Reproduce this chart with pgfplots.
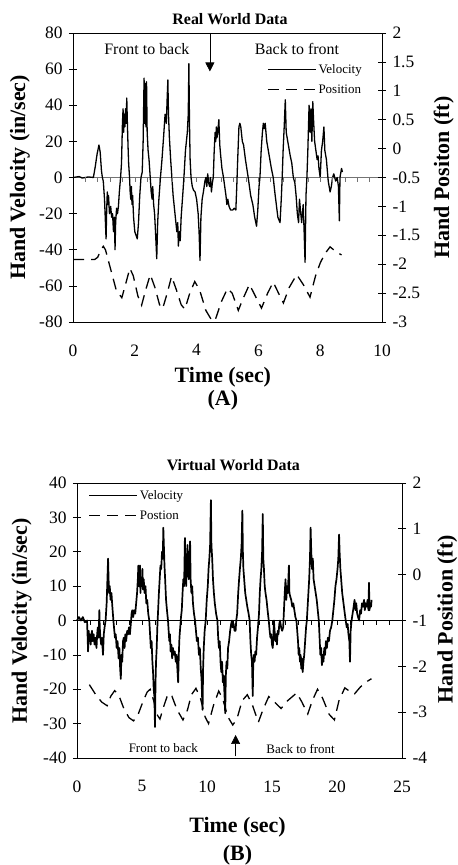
\documentclass[border=0pt]{standalone}
\usepackage{fontspec}
\setmainfont{Liberation Serif}
\usepackage{pgfplots}
\pgfplotsset{compat=1.18}
\usetikzlibrary{arrows.meta}

\pgfplotsset{
  panel/.style={
    scale only axis, anchor=south west,
    axis line style={black, line width=0.8bp},
    tick align=center, major tick length=8bp,
    tick style={black, line width=0.7bp},
    tick label style={font=\fontsize{17.5}{17.5}\selectfont},
    /pgf/number format/assume math mode=true,
    /pgf/number format/fixed,
    xtick style={draw=none},
    xtick pos=bottom,
    xticklabel style={yshift=-15bp},
    label style={font=\fontsize{22}{22}\selectfont\bfseries},
    every axis title shift=0pt,
    title style={font=\fontsize{16}{16}\selectfont\bfseries, anchor=center},
    clip=false,
  },
  lgd/.style={
    legend style={draw=none, fill=none, inner sep=0pt, row sep=6bp,
      font=\fontsize{13}{13}\selectfont},
    legend cell align=left,
    legend image code/.code={\draw[##1] (0bp,0bp) -- (48bp,0bp);},
  },
  vel/.style={black, line width=1.3bp, line join=round},
  pos/.style={black, line width=1.3bp, dash pattern=on 11bp off 7bp},
}

\begin{document}
\begin{tikzpicture}
\path[use as bounding box] (0,0) rectangle (458bp,865bp);

% ---------------- (A) real world: velocity, left axis
\begin{axis}[panel, lgd,
    at={(73bp,543bp)}, width=309bp, height=289bp,
    xmin=0, xmax=10, ymin=-80, ymax=80,
    xtick={0,2,4,6,8,10}, ytick={-80,-60,-40,-20,0,20,40,60,80},
    ytick pos=left,
    yticklabel style={xshift=-3bp},
    title={Real World Data},
    title style={at={(axis description cs:0.508,1.048)}},
    xlabel={Time (sec)},
    xlabel style={at={(axis description cs:0.485,-0.19)}, anchor=center},
    ylabel={Hand Velocity (in/sec)},
    ylabel style={at={(axis description cs:-0.172,0.5)}, anchor=center},
    legend style={at={(axis description cs:0.628,0.9)}, anchor=north west},
]
\addplot[forget plot, black!55, line width=0.7bp] coordinates {(0,0) (10,0)};
\addplot[forget plot, only marks, mark=|, mark size=2.5bp, black!55,
  mark options={yshift=-2bp, line width=0.6bp}] coordinates {
  (0.4,0) (0.8,0) (1.2,0) (1.6,0) (2.0,0) (2.4,0) (2.8,0) (3.2,0) (3.6,0)
  (4.0,0) (4.4,0) (4.8,0) (5.2,0) (5.6,0) (6.0,0) (6.4,0) (6.8,0) (7.2,0)
  (7.6,0) (8.0,0) (8.4,0) (8.8,0) (9.2,0) (9.6,0)};
\addplot[vel] coordinates {
(0,0) (0.2,0.5) (0.3,-0.3) (0.5,0.3) (0.66,0) (0.72,6) (0.78,13) (0.84,18)
(0.88,14) (0.92,4) (0.95,0) (0.98,-2) (1.02,-12) (1.05,-25) (1.07,-34)
(1.09,-18) (1.11,-8) (1.13,-15) (1.15,-10) (1.18,-20) (1.22,-16) (1.25,-22)
(1.28,-20) (1.31,-30) (1.34,-22) (1.36,-40) (1.38,-25) (1.41,-17) (1.44,-20)
(1.47,-16) (1.5,-8) (1.54,0) (1.57,8) (1.6,30) (1.62,38) (1.64,25) (1.66,35)
(1.68,28) (1.7,38) (1.72,30) (1.74,44) (1.76,30) (1.78,18) (1.8,8) (1.83,0)
(1.85,-8) (1.87,-12) (1.89,-5) (1.91,-15) (1.93,-10) (1.96,-22) (2.0,-30)
(2.04,-32) (2.08,-34) (2.12,-25) (2.16,-10) (2.2,0) (2.24,3) (2.27,20)
(2.3,55) (2.32,30) (2.34,52) (2.36,28) (2.38,53) (2.4,25) (2.43,15) (2.46,10)
(2.5,0) (2.53,-8) (2.56,-12) (2.58,-5) (2.61,-15) (2.64,-20) (2.67,-30)
(2.71,-45) (2.74,-25) (2.78,-12) (2.83,0) (2.88,10) (2.93,22) (2.98,35)
(3.02,30) (3.05,45) (3.07,54) (3.09,35) (3.12,22) (3.16,10) (3.2,0)
(3.24,-10) (3.3,-20) (3.36,-30) (3.39,-25) (3.41,-38) (3.44,-30) (3.47,-35)
(3.5,-22) (3.55,-10) (3.59,0) (3.64,15) (3.7,25) (3.73,35) (3.75,63)
(3.77,30) (3.79,10) (3.82,0) (3.86,-5) (3.9,-7) (3.95,-8) (4.0,-12)
(4.05,-20) (4.08,-30) (4.11,-46) (4.14,-22) (4.18,-12) (4.22,-8) (4.27,-2)
(4.3,0) (4.33,-5) (4.36,2) (4.39,-3) (4.42,-5) (4.45,0) (4.48,-8) (4.51,-3)
(4.54,0) (4.57,15) (4.6,25) (4.62,20) (4.64,28) (4.66,22) (4.69,26)
(4.72,32) (4.75,18) (4.78,12) (4.82,5) (4.87,0) (4.91,-5) (4.95,-10)
(4.98,-15) (5.01,-12) (5.05,-16) (5.1,-18) (5.17,-18) (5.22,-17) (5.27,-18)
(5.3,-5) (5.33,10) (5.37,28) (5.4,30) (5.43,28) (5.48,20) (5.52,18)
(5.58,10) (5.67,0) (5.75,-10) (5.82,-15) (5.88,-22) (5.94,-27) (5.98,-18)
(6.02,-5) (6.05,0) (6.09,15) (6.13,25) (6.16,30) (6.19,27) (6.22,30)
(6.27,20) (6.35,12) (6.42,5) (6.48,0) (6.53,-8) (6.58,-15) (6.63,-22)
(6.7,-25) (6.74,-12) (6.77,0) (6.8,15) (6.84,30) (6.87,43) (6.9,25)
(6.93,22) (6.97,18) (7.03,12) (7.08,8) (7.13,0) (7.18,-3) (7.22,-10)
(7.26,-20) (7.3,-25) (7.33,-12) (7.36,-18) (7.4,-25) (7.45,-15) (7.48,-30)
(7.51,-47) (7.54,-10) (7.57,0) (7.6,15) (7.64,40) (7.67,25) (7.7,38)
(7.73,20) (7.76,42) (7.79,30) (7.82,20) (7.86,15) (7.9,10) (7.93,12)
(7.96,5) (8.0,0) (8.04,15) (8.08,20) (8.12,28) (8.15,15) (8.2,10)
(8.26,-2) (8.32,-8) (8.36,-5) (8.4,0) (8.44,2) (8.5,-2) (8.55,0) (8.59,-5)
(8.62,-24) (8.64,0) (8.69,5) (8.72,3)};
\addlegendentry{Velocity}
\addlegendimage{pos}
\addlegendentry{Position}
\node[font=\fontsize{16}{16}\selectfont] at (axis cs:2.39,70.9) {Front to back};
\node[font=\fontsize{16}{16}\selectfont] at (axis cs:7.25,71.4) {Back to front};
\draw[black, line width=0.6bp, -{Triangle[length=9bp,width=9bp]}]
  (axis cs:4.43,80) -- (axis cs:4.43,58.7);
\node[font=\fontsize{22}{22}\selectfont\bfseries] at (axis description cs:0.485,-0.27) {(A)};
\end{axis}

% ---------------- (A) position, right axis
\begin{axis}[panel,
    at={(73bp,543bp)}, width=309bp, height=289bp,
    xmin=0, xmax=10, ymin=-3, ymax=2,
    axis x line=none, axis y line*=right,
    ytick={-3,-2.5,-2,-1.5,-1,-0.5,0,0.5,1,1.5,2},
    yticklabel style={xshift=3bp},
    ylabel={Hand Positon (ft)},
    ylabel style={at={(axis description cs:1.2,0.5)}, anchor=center},
]
\addplot[pos] coordinates {
(0,-1.92) (0.7,-1.92) (0.8,-1.88) (0.9,-1.75) (0.98,-1.69) (1.05,-1.75)
(1.2,-2.05) (1.4,-2.45) (1.58,-2.58) (1.7,-2.35) (1.84,-2.07) (1.95,-2.2)
(2.1,-2.55) (2.22,-2.71) (2.35,-2.45) (2.5,-2.18) (2.65,-2.4) (2.8,-2.7)
(2.9,-2.77) (3.05,-2.5) (3.19,-2.21) (3.35,-2.45) (3.5,-2.7) (3.62,-2.78)
(3.78,-2.5) (3.94,-2.3) (4.1,-2.45) (4.3,-2.8) (4.5,-2.98) (4.6,-2.97)
(4.8,-2.65) (5.0,-2.42) (5.15,-2.5) (5.35,-2.8) (5.5,-2.6) (5.71,-2.35)
(5.9,-2.55) (6.1,-2.76) (6.3,-2.5) (6.48,-2.31) (6.65,-2.5) (6.81,-2.67)
(7.0,-2.4) (7.24,-2.18) (7.45,-2.35) (7.67,-2.57) (7.85,-2.2) (8.0,-1.98)
(8.15,-1.82) (8.32,-1.70) (8.5,-1.78) (8.69,-1.84)};
\end{axis}

% ---------------- (B) virtual world: velocity, left axis
\begin{axis}[panel, lgd,
    at={(77bp,107bp)}, width=325bp, height=275bp,
    xmin=0, xmax=25, ymin=-40, ymax=40,
    xtick={0,5,10,15,20,25}, ytick={-40,-30,-20,-10,0,10,20,30,40},
    ytick pos=left,
    yticklabel style={xshift=-3bp},
    title={Virtual World Data},
    title style={at={(axis description cs:0.481,1.065)}},
    xlabel={Time (sec)},
    xlabel style={at={(axis description cs:0.494,-0.251)}, anchor=center},
    ylabel={Hand Velocity (in/sec)},
    ylabel style={at={(axis description cs:-0.17,0.498)}, anchor=center},
    legend style={at={(axis description cs:0.034,0.982)}, anchor=north west},
]
\addplot[forget plot, black, line width=1.3bp] coordinates {(0,0) (25,0)};
\addplot[forget plot, only marks, mark=|, mark size=2.5bp, black,
  mark options={yshift=-2bp, line width=0.8bp}] coordinates {
  (1,0) (2,0) (3,0) (4,0) (5,0) (6,0) (7,0) (8,0) (9,0) (10,0) (11,0) (12,0)
  (13,0) (14,0) (15,0) (16,0) (17,0) (18,0) (19,0) (20,0) (21,0) (22,0)
  (23,0) (24,0)};
\addplot[vel, line width=1.7bp] coordinates {
(0,0) (0.15,1) (0.3,0) (0.45,1) (0.6,-0.5) (0.77,0) (0.82,-5) (0.85,-9)
(0.9,-3) (0.95,-6) (1.0,-4) (1.05,-7) (1.1,-5) (1.15,-3) (1.2,-6) (1.28,-4)
(1.35,-7) (1.42,-5) (1.5,-8) (1.55,-4) (1.6,-2) (1.66,-5) (1.72,3)
(1.75,-2) (1.8,-5) (1.86,-7) (1.92,-5) (2.0,-10) (2.06,-4) (2.12,-2)
(2.2,0) (2.28,5) (2.34,12) (2.39,18) (2.43,12) (2.47,8) (2.52,10) (2.58,6)
(2.65,8) (2.72,4) (2.8,0) (2.87,-3) (2.92,-5) (2.98,-4) (3.05,-8)
(3.12,-6) (3.2,-11) (3.26,-8) (3.32,-14) (3.37,-17) (3.42,-10) (3.48,-12)
(3.54,-6) (3.6,-5) (3.66,-8) (3.72,-4) (3.78,-6) (3.86,-3) (3.93,-4)
(4.0,-2) (4.07,-4) (4.14,-1) (4.2,2) (4.25,3) (4.32,1) (4.4,3) (4.48,2)
(4.55,5) (4.62,8) (4.68,12) (4.72,16) (4.76,10) (4.8,14) (4.84,16)
(4.88,8) (4.93,12) (4.98,10) (5.03,15) (5.08,9) (5.13,12) (5.2,8)
(5.27,10) (5.33,5) (5.4,6) (5.48,2) (5.56,0) (5.62,-4) (5.68,-8) (5.74,-6)
(5.8,-12) (5.85,-15) (5.9,-20) (5.95,-22) (6.0,-31) (6.04,-18) (6.08,-12)
(6.13,-8) (6.18,-2) (6.24,3) (6.3,8) (6.36,12) (6.42,16) (6.48,15)
(6.54,20) (6.6,18) (6.64,27) (6.68,22) (6.73,16) (6.78,12) (6.85,6)
(6.92,3) (7.0,0) (7.05,-3) (7.1,-6) (7.15,-4) (7.2,-9) (7.26,-7)
(7.32,-11) (7.38,-8) (7.45,-10) (7.52,-9) (7.6,-12) (7.66,-10) (7.72,-14)
(7.78,-18) (7.83,-10) (7.88,-5) (7.94,-2) (8.0,1) (8.06,3) (8.12,8)
(8.18,12) (8.24,10) (8.3,24) (8.34,14) (8.4,10) (8.45,18) (8.5,22)
(8.55,14) (8.6,12) (8.66,18) (8.7,23) (8.74,12) (8.8,8) (8.86,10) (8.92,5)
(9.0,2) (9.08,0) (9.15,-3) (9.22,-6) (9.3,-5) (9.38,-10) (9.45,-8)
(9.52,-14) (9.58,-17) (9.62,-22) (9.66,-26) (9.7,-14) (9.75,-8) (9.82,-3)
(9.9,0) (9.98,6) (10.06,10) (10.12,15) (10.18,18) (10.24,22) (10.3,35)
(10.34,22) (10.4,18) (10.46,12) (10.53,8) (10.6,5) (10.7,2) (10.8,0)
(10.86,-5) (10.92,-8) (10.98,-6) (11.04,-12) (11.1,-15) (11.16,-12)
(11.22,-18) (11.28,-16) (11.35,-22) (11.4,-27) (11.45,-16) (11.5,-12)
(11.56,-14) (11.62,-8) (11.7,-6) (11.78,-3) (11.86,-1) (11.92,0)
(11.98,-2) (12.05,-1) (12.12,-3) (12.2,-3) (12.25,0) (12.32,2) (12.4,8)
(12.47,12) (12.53,15) (12.6,18) (12.66,22) (12.72,32) (12.76,20)
(12.8,15) (12.86,12) (12.94,8) (13.02,6) (13.1,4) (13.2,2) (13.28,0)
(13.34,-6) (13.4,-10) (13.46,-12) (13.52,-22) (13.56,-12) (13.6,-10)
(13.66,-12) (13.72,-9) (13.78,-10) (13.85,-5) (13.92,-2) (14.0,2)
(14.06,8) (14.12,12) (14.18,15) (14.24,20) (14.29,31) (14.33,18)
(14.38,15) (14.44,10) (14.5,8) (14.58,6) (14.66,3) (14.75,0) (14.82,-3)
(14.88,-5) (14.94,-4) (15.0,-7) (15.06,-8) (15.1,-5) (15.15,0) (15.2,-3)
(15.26,-6) (15.32,-4) (15.38,-7) (15.44,-3) (15.5,-4) (15.56,-1)
(15.62,0) (15.7,-2) (15.78,-3) (15.86,-2) (15.92,3) (15.98,8) (16.04,12)
(16.1,6) (16.16,10) (16.22,8) (16.26,12) (16.3,16) (16.34,8) (16.4,7)
(16.48,6) (16.56,4) (16.64,5) (16.72,3) (16.8,1) (16.88,0) (16.94,-3)
(17.0,-6) (17.05,-10) (17.1,-8) (17.15,-12) (17.2,-10) (17.25,-14)
(17.3,-11) (17.36,-15) (17.42,-12) (17.48,-10) (17.55,-6) (17.62,-2)
(17.68,0) (17.74,4) (17.8,8) (17.86,12) (17.92,18) (17.97,27) (18.02,20)
(18.08,15) (18.14,18) (18.2,12) (18.28,10) (18.36,8) (18.44,6) (18.52,3)
(18.6,0) (18.66,-5) (18.72,-10) (18.78,-8) (18.84,-13) (18.9,-10)
(18.96,-12) (19.02,-8) (19.08,-10) (19.15,-6) (19.22,-8) (19.3,-5)
(19.38,-6) (19.46,-3) (19.55,-2) (19.64,0) (19.72,3) (19.8,6) (19.88,10)
(19.96,12) (20.04,15) (20.1,18) (20.16,25) (20.2,20) (20.26,15)
(20.32,12) (20.4,8) (20.5,5) (20.6,2) (20.67,0) (20.75,-2) (20.82,-1)
(20.88,-4) (20.95,-6) (21.0,-12) (21.05,-3) (21.12,0) (21.2,2) (21.28,4)
(21.35,6) (21.42,3) (21.48,5) (21.55,2) (21.62,1) (21.7,0) (21.78,3)
(21.85,2) (21.92,5) (22.0,4) (22.08,6) (22.14,3) (22.2,5) (22.28,4)
(22.35,6) (22.42,3) (22.46,11) (22.5,3) (22.56,5) (22.62,4) (22.66,6)};
\addlegendentry{Velocity}
\addlegendimage{pos}
\addlegendentry{Postion}
\node[font=\fontsize{13}{13}\selectfont] at (axis cs:6.64,-37.2) {Front to back};
\node[font=\fontsize{13}{13}\selectfont] at (axis cs:17.2,-37.5) {Back to front};
\draw[black, line width=0.6bp, -{Triangle[length=9bp,width=9bp]}]
  (axis cs:12.2,-39.5) -- (axis cs:12.2,-33.3);
\node[font=\fontsize{22}{22}\selectfont\bfseries] at (axis description cs:0.494,-0.352) {(B)};
\end{axis}

% ---------------- (B) position, right axis
\begin{axis}[panel,
    at={(77bp,107bp)}, width=325bp, height=275bp,
    xmin=0, xmax=25, ymin=-4, ymax=2,
    axis x line=none, axis y line*=right,
    ytick={-4,-3,-2,-1,0,1,2},
    yticklabel style={xshift=3bp},
    ylabel={Hand Position (ft)},
    ylabel style={at={(axis description cs:1.139,0.505)}, anchor=center},
]
\addplot[pos] coordinates {
(0.95,-2.40) (1.4,-2.6) (1.9,-2.78) (2.32,-2.86) (2.6,-2.65) (2.9,-2.53)
(3.2,-2.62) (3.6,-2.92) (4.0,-3.12) (4.35,-3.19) (4.7,-3.05) (5.1,-2.75)
(5.4,-2.56) (5.63,-2.5) (5.9,-2.75) (6.15,-3.05) (6.38,-3.15) (6.7,-2.85)
(7.0,-2.6) (7.3,-2.65) (7.7,-2.95) (8.15,-3.17) (8.5,-2.95) (8.8,-2.62)
(9.15,-2.48) (9.5,-2.7) (9.85,-3.1) (10.12,-3.25) (10.5,-2.85) (10.9,-2.54)
(11.2,-2.7) (11.6,-3.1) (11.98,-3.28) (12.3,-3.15) (12.7,-2.75) (13.1,-2.62)
(13.5,-2.85) (13.95,-3.22) (14.3,-2.95) (14.75,-2.66) (15.2,-2.78)
(15.7,-2.92) (16.2,-2.75) (16.9,-2.58) (17.3,-2.78) (17.75,-3.04)
(18.1,-2.75) (18.5,-2.5) (18.9,-2.7) (19.4,-3.05) (19.8,-3.17) (20.15,-2.75)
(20.6,-2.47) (21.0,-2.55) (21.35,-2.6) (21.8,-2.45) (22.2,-2.35) (22.65,-2.27)};
\end{axis}
\end{tikzpicture}
\end{document}
